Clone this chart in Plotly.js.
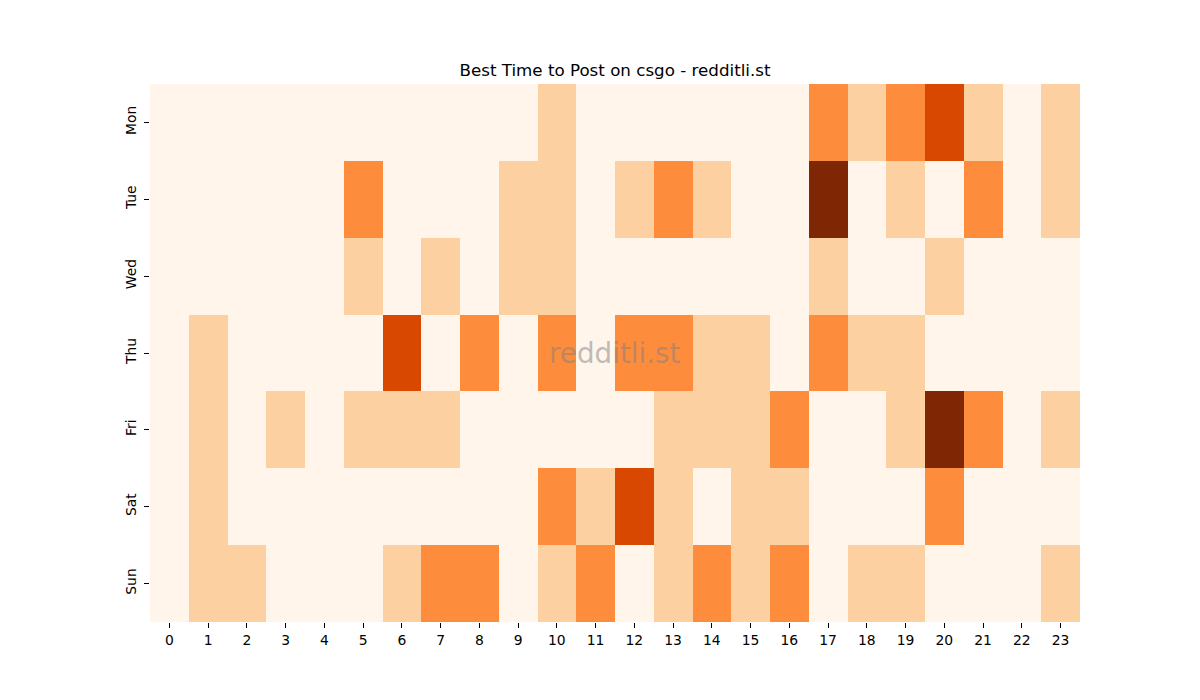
<!DOCTYPE html>
<html>
<head>
<meta charset="utf-8">
<script src="https://cdn.plot.ly/plotly-3.0.1.min.js"></script>
<style>html,body{margin:0;padding:0;background:#fff;}#chart{width:1200px;height:700px;}</style>
</head>
<body>
<div id="chart"></div>
<script>
const hours = [0,1,2,3,4,5,6,7,8,9,10,11,12,13,14,15,16,17,18,19,20,21,22,23];
const days = ["Mon","Tue","Wed","Thu","Fri","Sat","Sun"];
//              0 1 2 3 4 5 6 7 8 9 10 11 12 13 14 15 16 17 18 19 20 21 22 23
const mon = [0,0,0,0,0,0,0,0,0,0,1,0,0,0,0,0,0,2,1,2,3,1,0,1];
const tue = [0,0,0,0,0,2,0,0,0,1,1,0,1,2,1,0,0,4,0,1,0,2,0,1];
const wed = [0,0,0,0,0,1,0,1,0,1,1,0,0,0,0,0,0,1,0,0,1,0,0,0];
const thu = [0,1,0,0,0,0,3,0,2,0,2,0,2,2,1,1,0,2,1,1,0,0,0,0];
const fri = [0,1,0,1,0,1,1,1,0,0,0,0,0,1,1,1,2,0,0,1,4,2,0,1];
const sat = [0,1,0,0,0,0,0,0,0,0,2,1,3,1,0,1,1,0,0,0,2,0,0,0];
const sun = [0,1,1,0,0,0,1,2,2,0,1,2,0,1,2,1,2,0,1,1,0,0,0,1];
const zvals = [mon, tue, wed, thu, fri, sat, sun];

const trace = {
  type: 'heatmap',
  x: hours,
  y: days,
  z: zvals,
  zmin: 0,
  zmax: 4,
  colorscale: [[0,'#fff5eb'],[0.25,'#fdd0a2'],[0.5,'#fd8d3c'],[0.75,'#d94801'],[1,'#7f2704']],
  showscale: false,
  xgap: 0, ygap: 0,
  hoverinfo: 'x+y+z'
};

const layout = {
  width: 1200, height: 700,
  paper_bgcolor: '#fff', plot_bgcolor: '#fff',
  margin: {l: 150, r: 120, t: 84, b: 78},
  font: {family: 'DejaVu Sans', size: 13.9, color: '#000'},
  title: {text: 'Best Time to Post on csgo - redditli.st', font: {family: 'DejaVu Sans', size: 16.7, color: '#000'}, x: 0.5125, xanchor: 'center', y: 1 - 70/700, yanchor: 'middle'},
  xaxis: {
    tickmode: 'array', tickvals: hours, ticktext: hours.map(String),
    range: [-0.5, 23.5], ticks: 'outside', ticklen: 5, tickcolor: '#000', tickwidth: 1,
    showgrid: false, zeroline: false, showline: false,
    tickfont: {family: 'DejaVu Sans', size: 13.9, color: '#000'}
  },
  yaxis: {
    autorange: 'reversed', ticks: 'outside', ticklen: 5, tickcolor: '#000', tickwidth: 1,
    tickangle: -90, showgrid: false, zeroline: false, showline: false, ticklabelstandoff: 2,
    tickfont: {family: 'DejaVu Sans', size: 13.9, color: '#000'}
  },
  annotations: [{
    text: 'redditli.st', xref: 'paper', yref: 'paper', x: 0.5, y: 0.5,
    showarrow: false, font: {family: 'DejaVu Sans', size: 27.8, color: 'rgba(128,128,128,0.5)'}
  }]
};

Plotly.newPlot('chart', [trace], layout, {displayModeBar: false, staticPlot: true});
</script>
</body>
</html>
